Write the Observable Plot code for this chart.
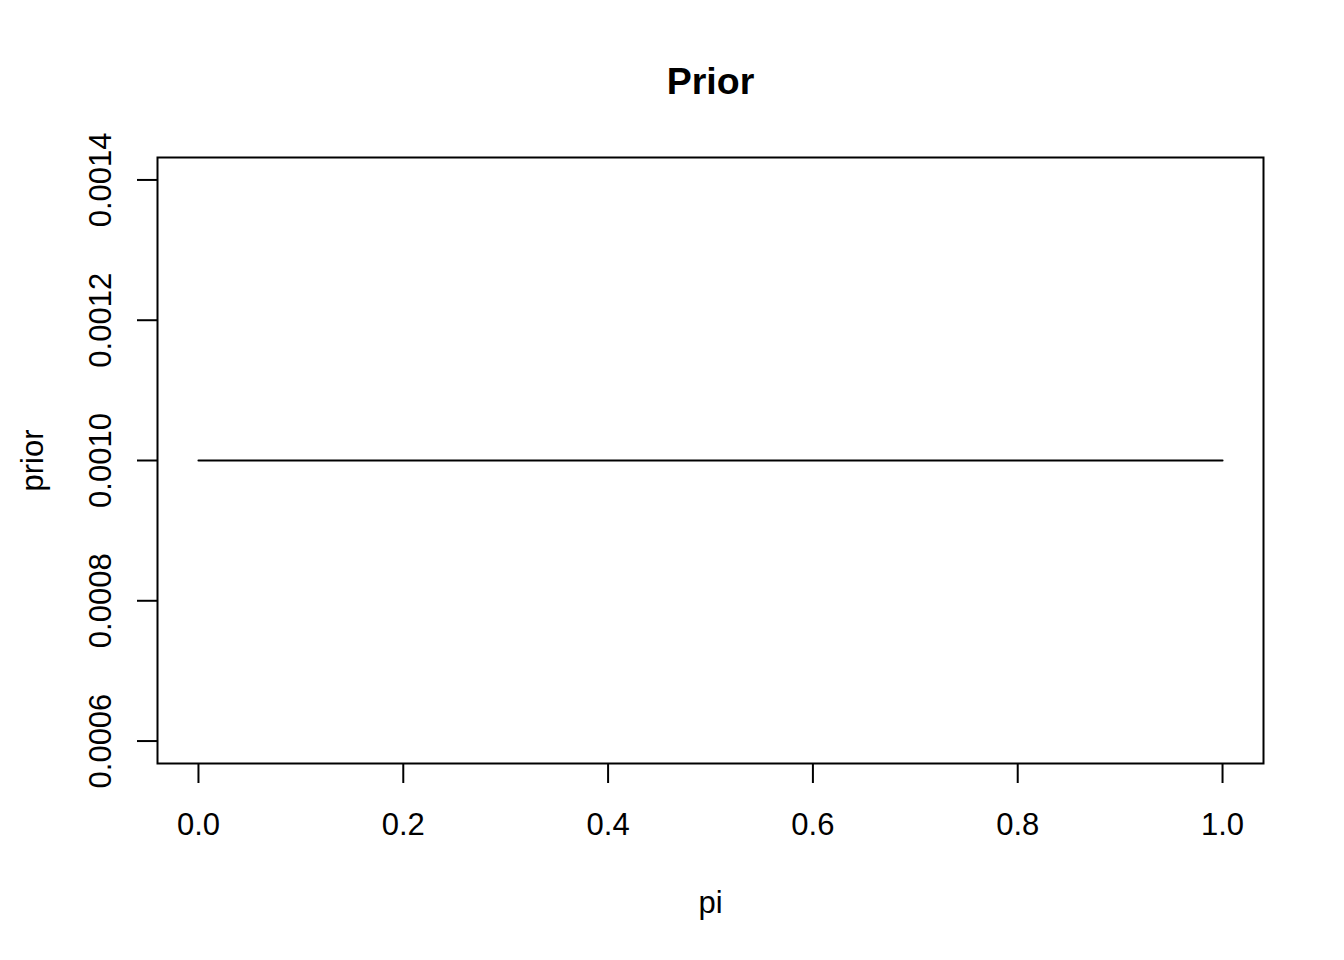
<!DOCTYPE html>
<html>
<head>
<meta charset="utf-8">
<script src="https://cdn.jsdelivr.net/npm/d3@7"></script>
<script src="https://cdn.jsdelivr.net/npm/@observablehq/plot@0.6"></script>
<style>
  html, body { margin: 0; padding: 0; background: #fff; }
  svg { display: block; }
</style>
</head>
<body>
<div id="chart"></div>
<script>
// Data
const piValues = [0, 0.25, 0.5, 0.75, 1];
const priorValues = [0.001, 0.001, 0.001, 0.001, 0.001];
const xTicks = [0, 0.2, 0.4, 0.6, 0.8, 1.0];
const yTicks = [0.0006, 0.0008, 0.0010, 0.0012, 0.0014];
const titleText = "Prior";
const xLabel = "pi";
const yLabel = "prior";

const data = piValues.map((p, i) => ({pi: p, prior: priorValues[i]}));

// R-style axis ranges (4% padding)
const xPad = (1 - 0) * 0.04;
const yPad = (0.0014 - 0.0006) * 0.04;

const font = "'Liberation Sans', Arial, Helvetica, sans-serif";

const chart = Plot.plot({
  width: 1344,
  height: 960,
  marginLeft: 157,
  marginRight: 81,
  marginTop: 157,
  marginBottom: 197,
  style: {fontFamily: font, background: "#fff", color: "#000"},
  x: {domain: [0 - xPad, 1 + xPad], axis: null},
  y: {domain: [0.0006 - yPad, 0.0014 + yPad], axis: null},
  marks: [
    Plot.frame({stroke: "#000", strokeWidth: 2}),
    Plot.axisX({
      ticks: xTicks, tickSize: 20, tickPadding: 29, fontSize: 31,
      strokeWidth: 2, tickFormat: d3.format(".1f"), label: null
    }),
    Plot.axisY({
      ticks: yTicks, tickSize: 20, tickPadding: 27, tickRotate: -90, fontSize: 31,
      strokeWidth: 2, tickFormat: d3.format(".4f"), label: null
    }),
    Plot.line(data, {x: "pi", y: "prior", stroke: "#000", strokeWidth: 2}),
    Plot.text([titleText], {frameAnchor: "top", dy: -64, lineAnchor: "bottom",
      fontSize: 37.5, fontWeight: "bold", fill: "#000"}),
    Plot.text([xLabel], {frameAnchor: "bottom", dy: 149, lineAnchor: "bottom",
      fontSize: 31, fill: "#000"}),
    Plot.text([yLabel], {frameAnchor: "left", dx: -115, rotate: -90, lineAnchor: "bottom",
      textAnchor: "middle", fontSize: 31, fill: "#000"})
  ]
});
document.getElementById("chart").appendChild(chart);
</script>
</body>
</html>
